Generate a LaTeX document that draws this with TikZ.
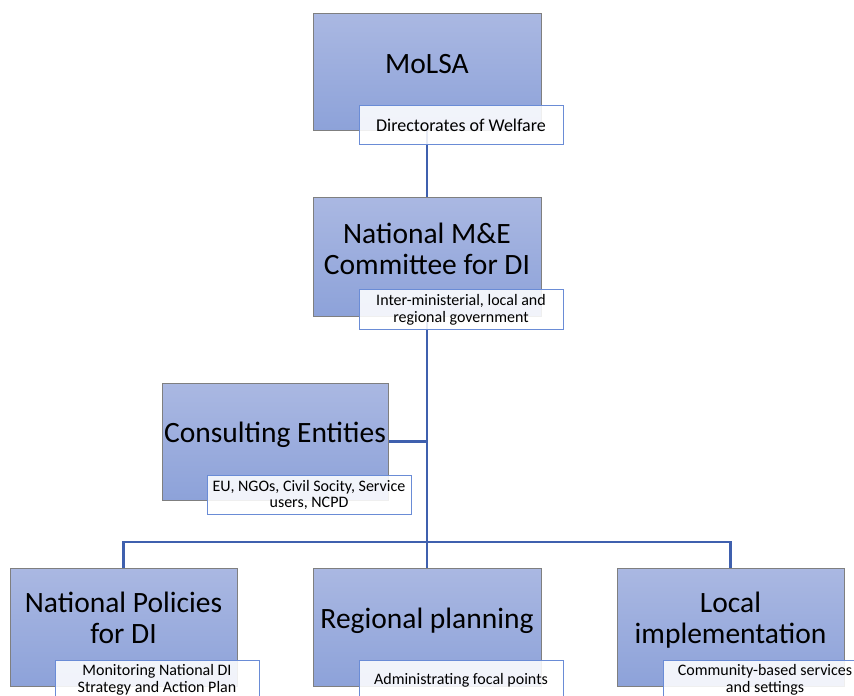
\documentclass[tikz,border=0pt]{standalone}
\usepackage{fontspec}
\setmainfont{Carlito}
\usetikzlibrary{backgrounds}
\definecolor{boxtop}{HTML}{AAB8E2}
\definecolor{boxbot}{HTML}{8DA2D9}
\definecolor{boxedge}{HTML}{7F7F7F}
\definecolor{labeledge}{HTML}{6A8CD6}
\definecolor{linkblue}{HTML}{3F60AE}
\tikzset{
  mainbox/.style={draw=boxedge, line width=0.9pt, top color=boxtop, bottom color=boxbot, minimum width=228pt, minimum height=118pt, inner sep=0pt},
  labelbox/.style={draw=labeledge, line width=1pt, fill=white, fill opacity=0.88, minimum width=204pt, minimum height=40pt, inner sep=0pt},
  title/.style={font=\fontsize{29.5}{31}\selectfont, align=center, anchor=base, inner sep=0pt},
  subbig/.style={font=\fontsize{18}{20}\selectfont, align=center, anchor=base, inner sep=0pt},
  subtext/.style={font=\fontsize{16}{16.5}\selectfont, align=center, anchor=base, inner sep=0pt},
  link/.style={draw=linkblue, line width=2.4pt}
}
\begin{document}
\begin{tikzpicture}[x=1pt, y=-1pt]
\path[use as bounding box, clip] (0,0) rectangle (854,696);
% main boxes
\node[mainbox, minimum height=117pt] (molsa) at (427,71.5) {};
\node[mainbox, minimum height=119pt] (nme) at (427,256.5) {};
\node[mainbox, minimum width=226pt, minimum height=117pt] (ce) at (275,441.5) {};
\node[mainbox, minimum width=227pt] (np) at (123.5,627) {};
\node[mainbox] (rp) at (427,627) {};
\node[mainbox, minimum width=227pt] (li) at (730.5,627) {};
% titles (anchor base = baseline of the last line)
\node[title] (molsaT) at (427,73) {MoLSA};
\node[title] (nmeT) at (427,274) {National M\&E\\Committee for DI};
\node[title] (ceT) at (275,442) {Consulting Entities};
\node[title] (npT) at (123.5,643) {National Policies\\for DI};
\node[title] (rpT) at (427,628) {Regional planning};
\node[title] (liT) at (730.5,643) {Local\\implementation};
% label boxes
\node[labelbox, minimum height=39pt] (dirw) at (461,124.5) {};
\node[labelbox] (mel) at (461,309) {};
\node[labelbox, minimum height=39pt] (cel) at (309,494.5) {};
\node[labelbox] (npl) at (157,680) {};
\node[labelbox] (rpl) at (461,680) {};
\node[labelbox] (lil) at (765,680) {};
% label texts
\node[subbig] (dirwT) at (461,131) {Directorates of Welfare};
\node[subtext] (melT) at (461,322) {Inter-ministerial, local and\\regional government};
\node[subtext] (celT) at (309,507.5) {EU, NGOs, Civil Socity, Service\\users, NCPD};
\node[subtext] (nplT) at (157,692) {Monitoring National DI\\Strategy and Action Plan};
\node[subtext] (rplT) at (461,684) {Administrating focal points};
\node[subtext] (lilT) at (765,692) {Community-based services\\and settings};
% connectors
\coordinate (bus) at (427,542);
\begin{scope}[on background layer]
\draw[link] (molsa.south) -- (nme.north);
\draw[link] (nme.south) -- (rp.north);
\draw[link] (ce.east) -- (ce.east -| nme.south);
\draw[link] (np.north) |- (bus) -| (li.north);
\end{scope}
\end{tikzpicture}
\end{document}
